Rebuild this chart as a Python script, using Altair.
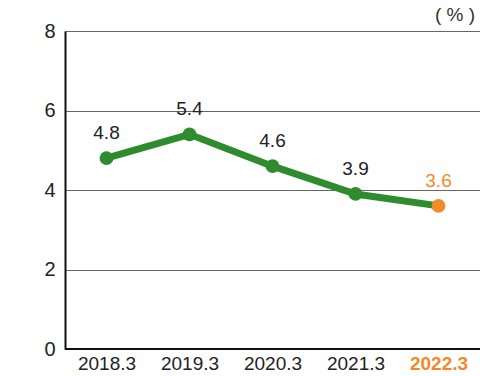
import altair as alt
import pandas as pd

years = ["2018.3", "2019.3", "2020.3", "2021.3", "2022.3"]
values = [4.8, 5.4, 4.6, 3.9, 3.6]
colors = ["#2e8b2e", "#2e8b2e", "#2e8b2e", "#2e8b2e", "#f28a2a"]
label_colors = ["#222222", "#222222", "#222222", "#222222", "#f28a2a"]

df = pd.DataFrame({"year": years, "value": values, "color": colors, "lcolor": label_colors,
                   "label": [f"{v:.1f}" for v in values]})

x = alt.X("year:N", sort=years, title=None,
          scale=alt.Scale(type="point", padding=0.5),
          axis=alt.Axis(labelAngle=0, labelFont="Liberation Sans", labelFontSize=19,
                        labelColor=alt.ExprRef("datum.value == '2022.3' ? '#f28a2a' : '#222222'"),
                        labelFontWeight=alt.ExprRef("datum.value == '2022.3' ? 'bold' : 'normal'"),
                        domain=False, ticks=False, labelPadding=5))
y = alt.Y("value:Q", title=None,
          scale=alt.Scale(domain=[0, 8], nice=False),
          axis=alt.Axis(values=[0, 2, 4, 6, 8], labelFont="Liberation Sans", labelFontSize=20,
                        labelColor="#222222", domain=True, domainColor="#111111", domainWidth=2,
                        ticks=False, labelPadding=10, grid=True, gridColor="#666666", gridWidth=1))

base = alt.Chart(df)
line = base.mark_line(color="#2e8b2e", strokeWidth=7).encode(x=x, y=y)
pts = base.mark_circle(size=190, opacity=1).encode(x=x, y=y, color=alt.Color("color:N", scale=None))
labels = base.mark_text(dy=-25, fontSize=19, font="Liberation Sans").encode(
    x=x, y=y, text="label:N", color=alt.Color("lcolor:N", scale=None))
zero = alt.Chart(pd.DataFrame({"v": [0]})).mark_rule(color="#111111", strokeWidth=2).encode(y=alt.Y("v:Q", scale=alt.Scale(domain=[0, 8])))
unit = alt.Chart(pd.DataFrame({"t": ["( % )"]})).mark_text(fontSize=19, font="Liberation Sans", color="#333333", align="right").encode(
    text="t:N", x=alt.value(410), y=alt.value(-16))

chart = alt.layer(line, zero, pts, labels, unit).properties(
    width=415, height=318,
    autosize=alt.AutoSizeParams(type="none"),
    padding={"left": 65, "top": 31, "right": 0, "bottom": 27},
).configure_view(stroke=None).configure(background="white")

chart.save("out.html", embed_options={"renderer": "svg", "actions": False})
